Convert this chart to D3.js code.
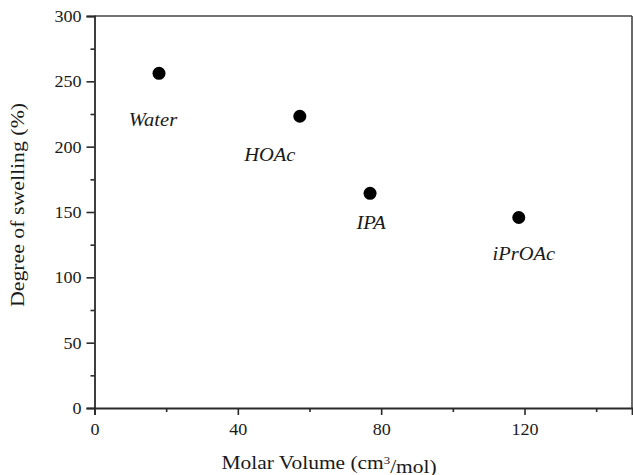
<!DOCTYPE html>
<html>
<head>
<meta charset="utf-8">
<script src="https://cdn.jsdelivr.net/npm/d3@7"></script>
</head>
<body style="margin:0;background:#fff">
<svg id="chart" width="633" height="475"></svg>
<script>
// ---- data ----
const solvents = ["Water", "HOAc", "IPA", "iPrOAc"];
const molarVolume = [18.0, 57.3, 76.9, 118.4];
const swellingDegree = [256.1, 223.3, 164.3, 145.8];
const xTicks = [0, 40, 80, 120];
const xMinorTicks = [20, 60, 100, 140];
const yTicks = [0, 50, 100, 150, 200, 250, 300];
const yMinorTicks = [25, 75, 125, 175, 225, 275];

// label placement (pixel offsets from each point)
const labelDx = [-6, -30, 1, 5];
const labelDy = [53, 45, 36, 43];

const FONT = '"Liberation Serif"';
const TEXT = "#1a1a1a";
const svg = d3.select("#chart");
const W = 633, H = 475;
const margin = { left: 94.5, right: 1, top: 16, bottom: 67 };

const x = d3.scaleLinear().domain([0, 150]).range([margin.left, W - margin.right]);
const y = d3.scaleLinear().domain([0, 300]).range([H - margin.bottom, margin.top]);

const axisColor = "#2a2a2a";
const sx = 1.13;

svg.append("rect").attr("width", W).attr("height", H).attr("fill", "#fff");

// frame (top & right)
svg.append("line").attr("x1", x(0)).attr("x2", x(150)).attr("y1", y(300)).attr("y2", y(300))
  .attr("stroke", "#444").attr("stroke-width", 1.6);
svg.append("line").attr("x1", x(150)).attr("x2", x(150)).attr("y1", y(300)).attr("y2", y(0))
  .attr("stroke", "#444").attr("stroke-width", 1.6);

// x axis
const gx = svg.append("g").attr("transform", `translate(0,${y(0)})`)
  .call(d3.axisBottom(x).tickValues(xTicks).tickSize(7).tickPadding(0).tickFormat(d3.format("d")));
gx.select(".domain").attr("stroke", axisColor).attr("stroke-width", 1.8);
gx.selectAll(".tick line").attr("stroke", axisColor).attr("stroke-width", 1.6);
gx.selectAll(".tick text")
  .attr("y", 0).attr("dy", null)
  .attr("transform", `translate(0,27) scale(${sx},1)`)
  .style("font-family", FONT).style("font-size", "16px").style("fill", TEXT);

const gxm = svg.append("g").attr("transform", `translate(0,${y(0)})`)
  .call(d3.axisBottom(x).tickValues(xMinorTicks).tickSize(4).tickFormat(""));
gxm.select(".domain").remove();
gxm.selectAll(".tick line").attr("stroke", axisColor).attr("stroke-width", 1.6);

// y axis
const gy = svg.append("g").attr("transform", `translate(${x(0)},0)`)
  .call(d3.axisLeft(y).tickValues(yTicks).tickSize(8).tickPadding(0).tickFormat(d3.format("d")));
gy.select(".domain").attr("stroke", axisColor).attr("stroke-width", 1.8);
gy.selectAll(".tick line").attr("stroke", axisColor).attr("stroke-width", 1.6);
gy.selectAll(".tick text")
  .attr("x", 0).attr("dy", "0.34em")
  .attr("transform", `translate(-13,0) scale(${sx},1)`)
  .style("font-family", FONT).style("font-size", "16px").style("fill", TEXT);

const gym = svg.append("g").attr("transform", `translate(${x(0)},0)`)
  .call(d3.axisLeft(y).tickValues(yMinorTicks).tickSize(4).tickFormat(""));
gym.select(".domain").remove();
gym.selectAll(".tick line").attr("stroke", axisColor).attr("stroke-width", 1.6);

// axis titles
const xt = svg.append("text")
  .attr("text-anchor", "middle")
  .attr("transform", `translate(329,469) scale(1.16,1)`)
  .style("font-family", FONT).style("font-size", "18.5px").style("fill", TEXT);
xt.append("tspan").text("Molar Volume (cm");
xt.append("tspan").attr("dy", "-0.5em").style("font-size", "11px").text("3");
xt.append("tspan").attr("dy", "0.5em").text("/mol)");

svg.append("text")
  .attr("text-anchor", "middle")
  .attr("transform", `translate(24,205) rotate(-90) scale(1.18,1)`)
  .style("font-family", FONT).style("font-size", "18.5px").style("fill", TEXT)
  .text("Degree of swelling (%)");

// points
const data = solvents.map((s, i) => ({ name: s, mv: molarVolume[i], sw: swellingDegree[i], dx: labelDx[i], dy: labelDy[i] }));

svg.append("g").selectAll("circle").data(data).join("circle")
  .attr("cx", d => x(d.mv)).attr("cy", d => y(d.sw)).attr("r", 6.5)
  .attr("fill", "#000");

svg.append("g").selectAll("text").data(data).join("text")
  .attr("text-anchor", "middle")
  .attr("transform", d => `translate(${x(d.mv) + d.dx},${y(d.sw) + d.dy}) scale(1.08,1)`)
  .style("font-family", FONT).style("font-size", "19px").style("font-style", "italic").style("fill", TEXT)
  .text(d => d.name);
</script>
</body>
</html>
